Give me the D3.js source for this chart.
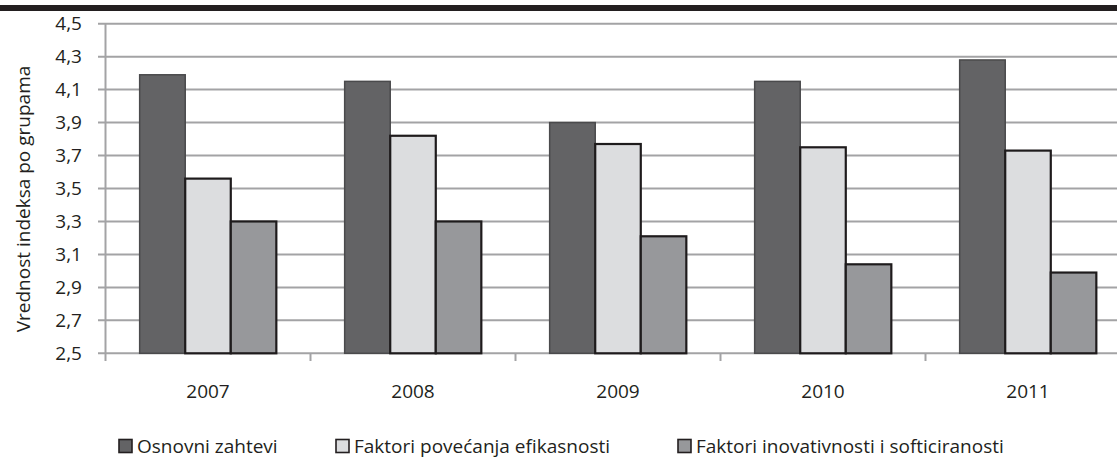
<!DOCTYPE html>
<html><head><meta charset="utf-8">
<script src="https://cdn.jsdelivr.net/npm/d3@7"></script>
<style>body{margin:0;background:#fff}svg{display:block}text{font-family:"Open Sans",sans-serif;fill:#231f20}</style>
</head><body>
<script>
const categories = ["2007","2008","2009","2010","2011"];
const seriesNames = ["Osnovni zahtevi","Faktori povećanja efikasnosti","Faktori inovativnosti i softiciranosti"];
const osnovni = [4.19, 4.15, 3.90, 4.15, 4.28];
const efikasnost = [3.56, 3.82, 3.77, 3.75, 3.73];
const inovativnost = [3.30, 3.30, 3.21, 3.04, 2.99];
const yTicks = [2.5,2.7,2.9,3.1,3.3,3.5,3.7,3.9,4.1,4.3,4.5];
const yTitle = "Vrednost indeksa po grupama";

const seriesValues = [osnovni, efikasnost, inovativnost];
const fills = ["#636365","#dcdddf","#97989b"];
const strokes = ["#4a4a4c","#1e1b1c","#1e1b1c"];
const strokeW = [1.5, 2.2, 2.2];

const W = 1117, H = 460;
const FS = 19;
const svg = d3.select("body").append("svg").attr("width", W).attr("height", H);

svg.append("rect").attr("x",0).attr("y",5).attr("width",W).attr("height",6).attr("fill","#231f20");

const x0 = d3.scaleBand().domain(categories).range([105.5, 1130.5]);
const y = d3.scaleLinear().domain([2.5, 4.5]).range([353.3, 23.7]);
const gap = 1.5;
const barW = x0.bandwidth() / (seriesNames.length + gap);

svg.append("g").selectAll("line").data(yTicks).join("line")
  .attr("x1", 98).attr("x2", W).attr("y1", d => y(d)).attr("y2", d => y(d))
  .attr("stroke", "#a3a3a5").attr("stroke-width", 2);

svg.append("line").attr("x1",105.5).attr("x2",105.5).attr("y1",y(4.5)).attr("y2",361)
  .attr("stroke","#a3a3a5").attr("stroke-width",2);

svg.append("g").selectAll("line").data(categories.slice(1)).join("line")
  .attr("x1", d => x0(d)).attr("x2", d => x0(d)).attr("y1", y(2.5)).attr("y2", 361)
  .attr("stroke","#a3a3a5").attr("stroke-width",2);

svg.append("g").selectAll("text").data(yTicks).join("text")
  .attr("x", 82).attr("y", d => y(d)).attr("dy","0.35em").attr("text-anchor","end")
  .attr("font-size", FS).text(d => d.toFixed(1).replace(".", ","));

svg.append("text").attr("transform","translate(30,199) rotate(-90)").attr("text-anchor","middle")
  .attr("font-size", FS).text(yTitle);

const groups = svg.append("g").selectAll("g").data(categories).join("g")
  .attr("transform", d => `translate(${x0(d) + barW*gap/2},0)`);
groups.each(function(cat, ci){
  d3.select(this).selectAll("rect").data(seriesValues.map((s,si)=>({si, v:s[ci]}))).join("rect")
    .attr("x", d => d.si*barW).attr("width", barW)
    .attr("y", d => y(d.v)).attr("height", d => y(2.5) - y(d.v))
    .attr("fill", d => fills[d.si]).attr("stroke", d => strokes[d.si]).attr("stroke-width", d => strokeW[d.si]);
});

svg.append("g").selectAll("text").data(categories).join("text")
  .attr("x", d => x0(d) + x0.bandwidth()/2).attr("y", 391).attr("dy","0.35em")
  .attr("text-anchor","middle").attr("font-size", FS).text(d => d);

const legX = [118, 335, 677];
const leg = svg.append("g").selectAll("g").data(seriesNames).join("g")
  .attr("transform", (d,i) => `translate(${legX[i]},446)`);
leg.append("rect").attr("x",1).attr("y",-6.5).attr("width",13).attr("height",13)
  .attr("fill",(d,i)=>fills[i]).attr("stroke","#231f20").attr("stroke-width",1.6);
leg.append("text").attr("x",19).attr("y",0).attr("dy","0.35em").attr("font-size",FS).text(d=>d);
</script>
</body></html>
